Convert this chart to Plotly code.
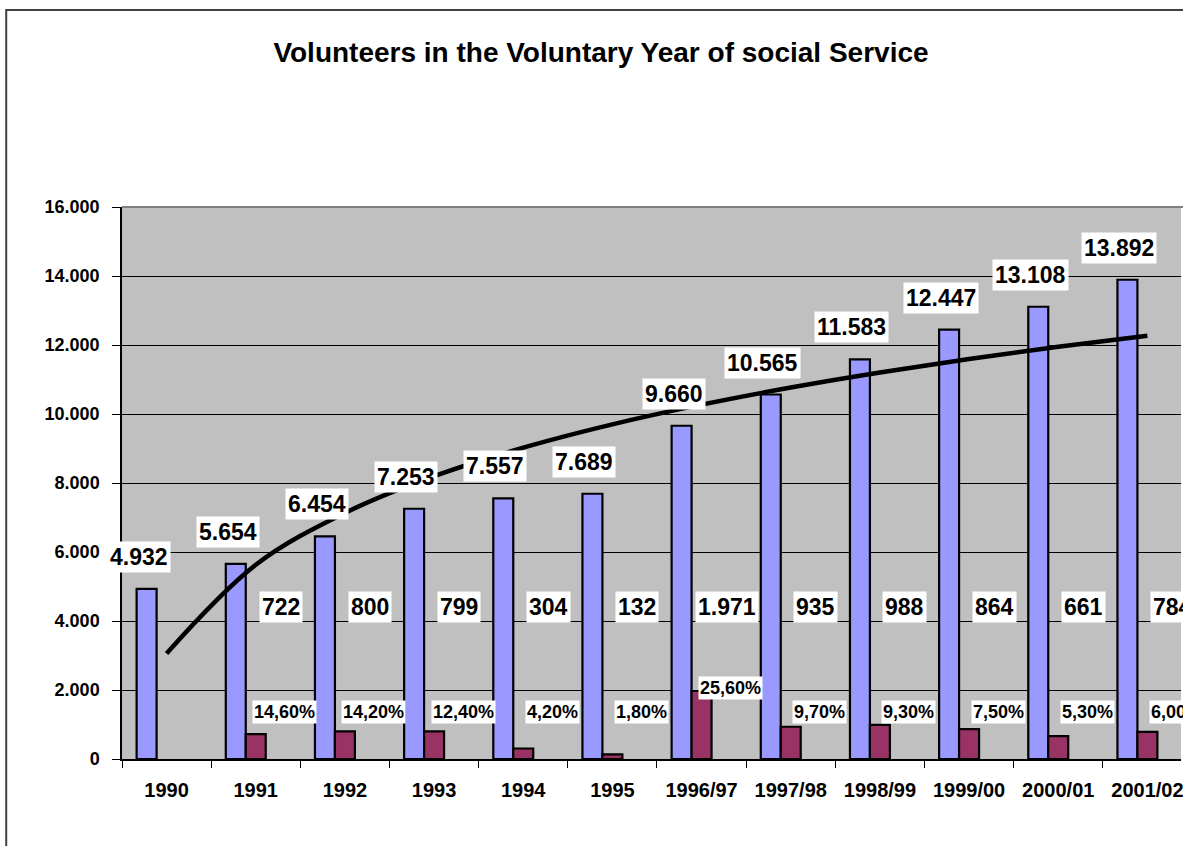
import numpy as np
import plotly.graph_objects as go

categories = ["1990", "1991", "1992", "1993", "1994", "1995", "1996/97",
              "1997/98", "1998/99", "1999/00", "2000/01", "2001/02"]
volunteers = [4932, 5654, 6454, 7253, 7557, 7689, 9660, 10565, 11583, 12447, 13108, 13892]
change = [None, 722, 800, 799, 304, 132, 1971, 935, 988, 864, 661, 784]
change_pct = [None, 14.6, 14.2, 12.4, 4.2, 1.8, 25.6, 9.7, 9.3, 7.5, 5.3, 6.0]
y_ticks = [0, 2000, 4000, 6000, 8000, 10000, 12000, 14000, 16000]

FONT = "Liberation Sans, Arial, sans-serif"

def de_num(v):
    return f"{v:,}".replace(",", ".")

def de_pct(v):
    return f"{v:.2f}".replace(".", ",") + "%"

# logarithmic trendline (least squares on ln(x)), as Excel does
xs = np.arange(1, len(volunteers) + 1)
a, b = np.polyfit(np.log(xs), np.array(volunteers, dtype=float), 1)
trend = a * np.log(xs) + b

fig = go.Figure()
fig.add_trace(go.Bar(
    x=categories, y=volunteers, name="Volunteers",
    marker=dict(color="#9999FF", line=dict(color="black", width=2.2)),
    width=0.224, offset=-0.336,
))
fig.add_trace(go.Bar(
    x=categories, y=change, name="Change",
    marker=dict(color="#993366", line=dict(color="black", width=2.2)),
    width=0.224, offset=-0.112,
))
fig.add_trace(go.Scatter(
    x=categories, y=trend, mode="lines", name="Trend",
    line=dict(color="black", width=4.5, shape="spline"),
))

big = dict(size=23, family=FONT, color="black", weight="bold")
small = dict(size=18, family=FONT, color="black", weight="bold")

ann = []
for i, v in enumerate(volunteers):
    ann.append(dict(x=i, y=v, text=de_num(v), xshift=-28, yshift=32,
                    font=big, bgcolor="white", borderpad=2, showarrow=False))
for i, (d, p) in enumerate(zip(change, change_pct)):
    if d is None:
        continue
    ann.append(dict(x=i, y=4400, text=de_num(d), xshift=25,
                    font=big, bgcolor="white", borderpad=2, showarrow=False))
    ann.append(dict(x=i, y=max(1360, d + 90), text=de_pct(p), xshift=29,
                    font=small, bgcolor="white", borderpad=1, showarrow=False))

fig.update_layout(
    width=1183, height=846,
    margin=dict(l=122, r=0, t=207, b=87),
    paper_bgcolor="white", plot_bgcolor="#C0C0C0",
    barmode="overlay", showlegend=False,
    separators=",.",
    font=dict(family=FONT, color="black"),
    title=dict(text="Volunteers in the Voluntary Year of social Service",
               x=601 / 1183, xref="container", y=1 - 52 / 846, yref="container",
               xanchor="center", yanchor="middle",
               font=dict(size=28, family=FONT, color="black", weight="bold")),
    annotations=ann,
    shapes=[
        dict(type="rect", xref="paper", yref="paper", x0=(6 - 122) / 1061, x1=1.2,
             y0=-0.3, y1=(759 - 10) / 552, line=dict(color="#404040", width=2),
             layer="below"),
        dict(type="line", xref="paper", yref="paper", x0=0, x1=1.2, y0=1, y1=1,
             line=dict(color="#808080", width=2), layer="below"),
    ],
)
fig.update_xaxes(
    type="category", range=[-0.5, 11.5 - 11 / 89.3],
    showline=True, linecolor="black", linewidth=1.5,
    ticks="outside", tickson="boundaries", ticklen=7, tickcolor="black",
    showgrid=False, ticklabelstandoff=12,
    tickfont=dict(size=20, family=FONT, color="black", weight="bold"),
)
fig.update_yaxes(
    range=[0, 16000], tickvals=y_ticks, tickformat=",d",
    showline=True, linecolor="black", linewidth=1.5,
    ticks="outside", ticklen=8, tickcolor="black",
    showgrid=True, gridcolor="black", gridwidth=1, zeroline=False,
    ticklabelstandoff=9,
    tickfont=dict(size=18, family=FONT, color="black", weight="bold"),
)

fig.write_html("out.html", config={"displayModeBar": False},
               post_script="document.body.style.margin='0';")
